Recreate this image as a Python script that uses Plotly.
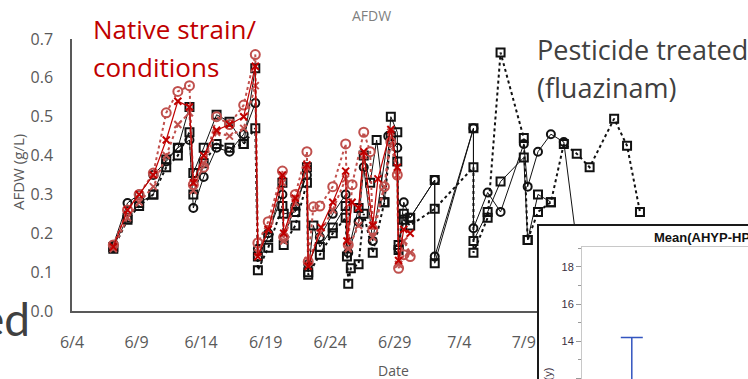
import pandas as pd
import plotly.graph_objects as go

W, H = 748, 379
DAY0 = pd.Timestamp("2019-06-04")

# ---- AFDW (g/L) per reactor; x values are days since 6/4 ----
bc_days = [3.2, 4.3, 5.2, 6.3, 7.3, 8.2, 9.1, 9.4, 10.2, 11.2, 12.2, 13.3, 14.2, 14.4, 15.2, 16.3, 16.4, 17.3,
           18.2, 18.3, 19.2, 20.2, 21.2, 21.4, 22.2, 22.6, 23.3, 24.5, 25.2, 25.3, 25.7, 26.2, 28.1, 28.1,
           31.1, 31.1, 32.2, 33.2, 35.0, 35.3, 36.1, 37.1, 38.1, 39.0]
bc_afdw = [0.17, 0.278, 0.30, 0.35, 0.385, 0.42, 0.44, 0.265, 0.345, 0.42, 0.41, 0.455, 0.535, 0.16, 0.20, 0.30,
           0.19, 0.27, 0.35, 0.12, 0.19, 0.25, 0.30, 0.15, 0.23, 0.37, 0.18, 0.45, 0.42, 0.16, 0.28, 0.24, 0.337,
           0.14, 0.47, 0.213, 0.305, 0.255, 0.43, 0.32, 0.41, 0.455, 0.435, 0.20]

bs_days = [3.2, 4.3, 5.2, 6.3, 7.3, 8.2, 9.1, 9.4, 10.2, 11.2, 12.2, 13.3, 14.2, 14.4, 15.2, 16.3, 16.4, 17.3,
           18.2, 18.3, 18.7, 19.2, 20.2, 21.2, 21.3, 22.2, 22.6, 23.1, 23.6, 24.2, 24.7, 25.2, 25.3, 25.7, 26.2,
           28.1, 28.1, 31.1, 31.1, 32.2, 33.2, 35.0, 35.3, 36.1, 37.1]
bs_afdw = [0.165, 0.24, 0.278, 0.30, 0.39, 0.42, 0.525, 0.355, 0.42, 0.505, 0.487, 0.43, 0.625, 0.14, 0.19, 0.33,
           0.25, 0.255, 0.37, 0.10, 0.22, 0.165, 0.215, 0.27, 0.14, 0.265, 0.40, 0.33, 0.44, 0.28, 0.50, 0.46,
           0.157, 0.25, 0.24, 0.337, 0.123, 0.47, 0.18, 0.255, 0.333, 0.395, 0.183, 0.30, 0.28]

bsd_days = [3.2, 4.3, 5.2, 6.3, 7.3, 8.2, 9.1, 9.4, 10.2, 11.2, 12.2, 13.3, 14.2, 14.4, 15.2, 16.3, 16.4, 17.3,
            18.2, 18.3, 19.2, 20.2, 21.2, 21.4, 21.6, 22.2, 22.6, 23.3, 24.2, 24.7, 25.2, 25.3, 25.7, 26.2, 28.1,
            31.1, 31.1, 32.2, 33.2, 35.0, 35.3, 36.1, 37.1, 38.1, 39.1, 40.1, 42.0, 43.0, 44.0]
bsd_afdw = [0.16, 0.235, 0.27, 0.30, 0.37, 0.40, 0.46, 0.30, 0.38, 0.43, 0.42, 0.43, 0.47, 0.105, 0.163, 0.27,
            0.17, 0.22, 0.33, 0.093, 0.145, 0.20, 0.24, 0.07, 0.11, 0.12, 0.25, 0.15, 0.28, 0.45, 0.385, 0.17,
            0.235, 0.22, 0.263, 0.37, 0.15, 0.24, 0.665, 0.445, 0.183, 0.255, 0.28, 0.43, 0.405, 0.37, 0.495,
            0.425, 0.255]

rc_days = [3.2, 4.3, 5.2, 6.3, 7.3, 8.2, 9.1, 9.4, 10.2, 11.2, 12.2, 13.3, 14.2, 14.4, 15.2, 16.3, 16.4, 17.3,
           18.2, 18.3, 18.7, 19.2, 20.2, 21.2, 21.4, 21.7, 22.6, 23.1, 23.3, 24.2, 24.7, 25.2, 25.3, 25.7, 26.2]
rc_afdw = [0.17, 0.26, 0.30, 0.355, 0.51, 0.565, 0.58, 0.325, 0.37, 0.50, 0.48, 0.53, 0.66, 0.175, 0.23, 0.36,
           0.19, 0.30, 0.41, 0.127, 0.268, 0.27, 0.32, 0.43, 0.17, 0.325, 0.46, 0.41, 0.21, 0.32, 0.435, 0.35,
           0.11, 0.145, 0.14]

rx_days = [3.2, 4.3, 5.2, 6.3, 7.3, 8.2, 9.1, 9.4, 10.2, 11.2, 12.2, 13.3, 14.2, 14.4, 15.2, 16.3, 16.4, 17.3,
           18.2, 18.3, 19.3, 20.2, 21.2, 21.3, 21.7, 22.2, 22.6, 23.3, 23.7, 24.7, 25.2, 25.3, 25.7, 26.2]
rx_afdw = [0.165, 0.26, 0.30, 0.35, 0.44, 0.54, 0.525, 0.33, 0.40, 0.465, 0.48, 0.50, 0.63, 0.14, 0.21, 0.35,
           0.20, 0.29, 0.376, 0.115, 0.215, 0.28, 0.36, 0.18, 0.28, 0.265, 0.41, 0.22, 0.34, 0.467, 0.37, 0.13,
           0.21, 0.20]

rxd_days = [3.2, 4.3, 5.2, 6.3, 7.3, 8.2, 9.1, 9.4, 10.2, 11.2, 12.2, 13.3, 14.2, 14.4, 15.2, 16.3, 16.4, 17.3,
            18.2, 18.3, 19.2, 20.2, 21.2, 21.4, 22.2, 22.6, 23.3, 24.2, 24.7, 25.2, 25.3, 25.7, 26.2]
rxd_afdw = [0.16, 0.24, 0.28, 0.32, 0.40, 0.48, 0.51, 0.31, 0.38, 0.46, 0.45, 0.47, 0.58, 0.15, 0.21, 0.33,
            0.18, 0.28, 0.37, 0.13, 0.20, 0.26, 0.34, 0.16, 0.22, 0.40, 0.19, 0.32, 0.46, 0.35, 0.12, 0.18, 0.15]

x_tick_labels = ["6/4", "6/9", "6/14", "6/19", "6/24", "6/29", "7/4", "7/9"]
x_tick_days = [0, 5, 10, 15, 20, 25, 30, 35]

# inset panel (JMP mean plot)
inset_mean = [10.9]
inset_err = [3.3]


def dates(days):
    return [DAY0 + pd.Timedelta(days=d) for d in days]


def P(px, py):
    """pixel position -> paper coordinates (margins are zero)"""
    return px / W, 1 - py / H


BLACK = "#111111"
RED = "#c00000"
ROSE = "#c0504d"

fig = go.Figure()


def series(days, vals, color, symbol, dash, lw, msize):
    fig.add_trace(go.Scatter(
        x=dates(days), y=vals, mode="lines+markers",
        line=dict(color=color, width=lw, dash=dash),
        marker=dict(symbol=symbol, size=msize, color=color, line=dict(color=color, width=2)),
        xaxis="x", yaxis="y", showlegend=False, cliponaxis=True))


series(bsd_days, bsd_afdw, BLACK, "square-open", "dot", 2, 8)
series(bs_days, bs_afdw, BLACK, "square-open", "solid", 1, 8)
series(bc_days, bc_afdw, BLACK, "circle-open", "solid", 1, 8)
series(rxd_days, rxd_afdw, ROSE, "x-thin-open", "dot", 2, 7)
series(rc_days, rc_afdw, ROSE, "circle-open", "dot", 2, 9)
series(rx_days, rx_afdw, RED, "x-thin-open", "solid", 1.2, 7)

# inset: white card with dark border
fig.add_trace(go.Scatter(x=[0, 1, 1, 0, 0], y=[0, 0, 1, 1, 0], mode="lines", fill="toself",
                         fillcolor="white", line=dict(width=0), xaxis="x2", yaxis="y2",
                         showlegend=False, hoverinfo="skip"))
# inset: error bar of the mean
fig.add_trace(go.Scatter(x=[0.3], y=inset_mean, mode="markers", marker=dict(size=1, opacity=0),
                         error_y=dict(type="data", array=inset_err, color="#3355c0", thickness=1.5, width=11),
                         xaxis="x3", yaxis="y3", showlegend=False))

main_x0, main_x1, main_top, main_bot = 72, 720, 39, 311
inset_l, inset_t = 539, 226
frame_l, frame_t = 582, 247

fig.update_layout(
    width=W, height=H, margin=dict(l=0, r=0, t=0, b=0),
    paper_bgcolor="white", plot_bgcolor="rgba(0,0,0,0)",
    font=dict(family="Open Sans", color="#595959"),
    showlegend=False,
    xaxis=dict(domain=[main_x0 / W, main_x1 / W], anchor="y", type="date",
               range=[DAY0, DAY0 + pd.Timedelta(days=50.2)],
               tickvals=dates(x_tick_days), ticktext=x_tick_labels,
               showline=True, linecolor="#595959", linewidth=1.5, ticks="",
               showgrid=False, zeroline=False, tickfont=dict(size=16, color="#595959"),
               ticklabelstandoff=16, automargin=False),
    yaxis=dict(domain=[1 - main_bot / H, 1 - main_top / H], anchor="x",
               range=[0, 0.7], dtick=0.1, tickformat=".1f",
               showline=True, linecolor="#595959", linewidth=1.5, ticks="",
               showgrid=False, zeroline=False, tickfont=dict(size=16, color="#595959"),
               ticklabelstandoff=14, automargin=False),
    xaxis2=dict(domain=[inset_l / W, 1], anchor="y2", range=[0, 1], side="top",
                showline=True, linecolor="#1a1a1a", linewidth=2, showticklabels=False,
                ticks="", showgrid=False, zeroline=False, automargin=False),
    yaxis2=dict(domain=[0, 1 - inset_t / H], anchor="x2", range=[0, 1],
                showline=True, linecolor="#1a1a1a", linewidth=2, showticklabels=False,
                ticks="", showgrid=False, zeroline=False, automargin=False),
    xaxis3=dict(domain=[frame_l / W, 1], anchor="y3", range=[0, 1], side="top",
                showline=True, linecolor="#c8c8c8", linewidth=1, showticklabels=False,
                ticks="", showgrid=False, zeroline=False, automargin=False),
    yaxis3=dict(domain=[0, 1 - frame_t / H], anchor="x3", range=[11.98, 19.06], dtick=2,
                showline=True, linecolor="#c8c8c8", linewidth=1, ticks="outside", ticklen=5,
                tickcolor="#9a9a9a", minor=dict(dtick=1, ticks="outside", ticklen=3, tickcolor="#9a9a9a"),
                tickfont=dict(family="Arial", size=11, color="#3a3040"),
                showgrid=False, zeroline=False, automargin=False),
)


def note(text, px, py, size, color, xanchor="center", yanchor="middle", angle=0, family="Open Sans", bold=False):
    x, y = P(px, py)
    fig.add_annotation(text=f"<b>{text}</b>" if bold else text, x=x, y=y, xref="paper", yref="paper",
                       xanchor=xanchor, yanchor=yanchor, showarrow=False, textangle=angle,
                       font=dict(size=size, color=color, family=family))


note("AFDW", 371, 15, 14, "#7f7f7f")
note("Date", 393, 370, 14, "#595959")
note("AFDW (g/L)", 18, 172, 15, "#595959", angle=-90)
note("Native strain/", 91, 29, 26, "#c00000", xanchor="left")
note("conditions", 91, 67, 26, "#c00000", xanchor="left")
note("Pesticide treated", 535, 50, 27, "#404040", xanchor="left")
note("(fluazinam)", 535, 88, 27, "#404040", xanchor="left")
note("ed", 32, 318, 46, "#404040", xanchor="right", family="Liberation Sans Narrow, Lato")
note("Mean(AHYP-HPLC)", 652, 237, 13, "#111111", xanchor="left", family="Arial", bold=True)
note("Mean(y)", 548, 366, 11, "#3a3040", yanchor="top", angle=-90, family="Arial")

fig.write_html("out.html")
